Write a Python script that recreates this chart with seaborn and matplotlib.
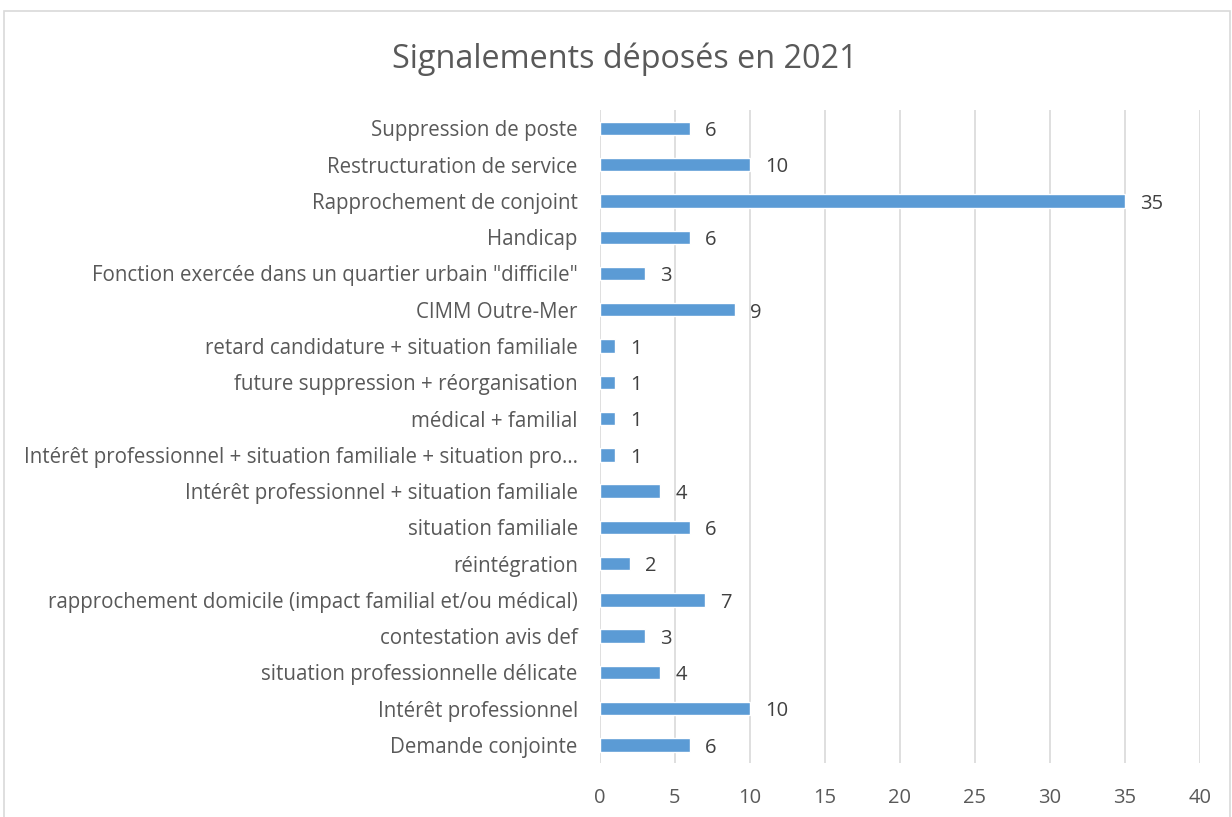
import pandas as pd
import matplotlib.pyplot as plt
import seaborn as sns
from matplotlib.patches import Rectangle

sns.set_theme(style="white")
plt.rcParams['font.family'] = ['Open Sans', 'DejaVu Sans']

motifs = [
    "Suppression de poste",
    "Restructuration de service",
    "Rapprochement de conjoint",
    "Handicap",
    "Fonction exercée dans un quartier urbain \"difficile\"",
    "CIMM Outre-Mer",
    "retard candidature + situation familiale",
    "future suppression + réorganisation",
    "médical + familial",
    "Intérêt professionnel + situation familiale + situation pro…",
    "Intérêt professionnel + situation familiale",
    "situation familiale",
    "réintégration",
    "rapprochement domicile (impact familial et/ou médical)",
    "contestation avis def",
    "situation professionnelle délicate",
    "Intérêt professionnel",
    "Demande conjointe",
]
nombres = [6, 10, 35, 6, 3, 9, 1, 1, 1, 1, 4, 6, 2, 7, 3, 4, 10, 6]
x_ticks = [0, 5, 10, 15, 20, 25, 30, 35, 40]

df = pd.DataFrame({"motif": motifs, "nombre": nombres})

txt = "#595959"
fig = plt.figure(figsize=(12.32, 8.17), dpi=100)
ax = fig.add_axes([0.487, 0.066, 0.487, 0.799])

sns.barplot(data=df, x="nombre", y="motif", color="#5B9BD5", saturation=1,
            width=0.37, ax=ax, zorder=3)

for i, v in enumerate(nombres):
    ax.annotate(str(v), (v, i), xytext=(11, -2), textcoords="offset points",
                ha="left", va="center", fontsize=14.5, color="#404040")

ax.set_xlim(0, 40)
ax.set_xticks(x_ticks)
ax.set_ylim(len(motifs) - 0.5, -0.5)
ax.xaxis.grid(True, color="#D9D9D9", linewidth=1.2, zorder=0)
ax.yaxis.grid(False)
for s in ax.spines.values():
    s.set_visible(False)
ax.tick_params(axis="x", length=0, pad=18, labelsize=14.5, labelcolor=txt)
ax.tick_params(axis="y", length=0, pad=16, labelsize=14.8, labelcolor=txt)
ax.set_xlabel("")
ax.set_ylabel("")

fig.text(0.507, 0.928, "Signalements déposés en 2021", ha="center", va="center",
         fontsize=23.3, color=txt)

fig.patches.append(Rectangle((4 / 1232, -0.1), 1226 / 1232, 1.1 - 11 / 817,
                             transform=fig.transFigure, fill=False,
                             edgecolor="#D9D9D9", linewidth=1.2))

fig.savefig("out.png", dpi=100)
